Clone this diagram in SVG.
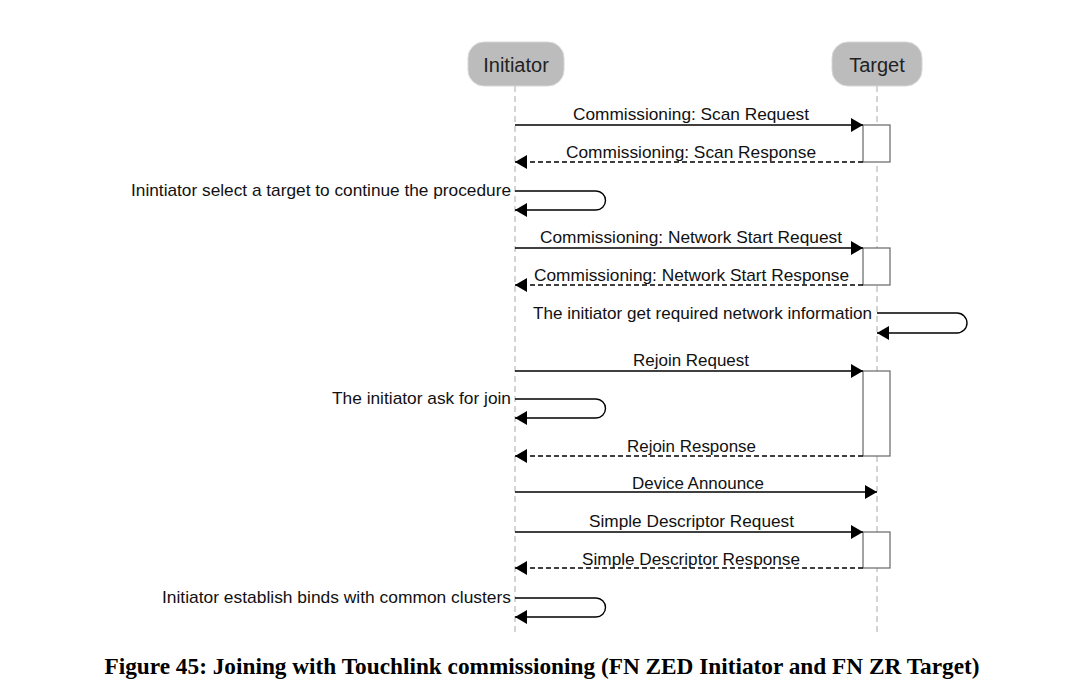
<svg xmlns="http://www.w3.org/2000/svg" width="1084" height="697" viewBox="0 0 1084 697">
<defs>
<style>
.lbl{font-family:"Liberation Sans",Arial,sans-serif;font-size:17px;fill:#111}
.mid{text-anchor:middle}
.end{text-anchor:end}
.head{font-family:"Liberation Sans",Arial,sans-serif;font-size:20px;fill:#222;text-anchor:middle}
.pill{fill:#bcbcbc;stroke:#d6d6d6;stroke-width:1}
.life{stroke:#aaa;stroke-width:1;stroke-dasharray:6,4;fill:none}
.act{fill:#fff;stroke:#666;stroke-width:1.2}
.msg{stroke:#000;stroke-width:1.4;fill:none;marker-end:url(#ah)}
.ret{stroke:#000;stroke-width:1.4;fill:none;stroke-dasharray:5,3;marker-end:url(#ah)}
.cap{font-family:"Liberation Serif","Times New Roman",serif;font-weight:bold;font-size:23px;fill:#000;text-anchor:middle}
</style>
<marker id="ah" markerUnits="userSpaceOnUse" markerWidth="13" markerHeight="14" refX="12" refY="7" orient="auto">
<path d="M0,0 L12,7 L0,14 z" fill="#000" stroke="none"/>
</marker>
</defs>
<rect width="1084" height="697" fill="#fff"/>
<g id="lifelines">
<line class="life" x1="515" y1="86" x2="515" y2="632"/>
<line class="life" x1="877" y1="86" x2="877" y2="632"/>
</g>
<g id="initiator">
<rect class="pill" x="468" y="42" width="96" height="44" rx="16"/>
<text class="head" x="516" y="72">Initiator</text>
</g>
<g id="target">
<rect class="pill" x="832" y="42" width="90" height="44" rx="16"/>
<text class="head" x="877" y="72">Target</text>
</g>
<g id="activations">
<rect class="act" x="863" y="125" width="27" height="37"/>
<rect class="act" x="863" y="248" width="27" height="37"/>
<rect class="act" x="863" y="371" width="27" height="85"/>
<rect class="act" x="863" y="532" width="27" height="36"/>
</g>
<g id="connectors">
<line class="msg" x1="515" y1="125" x2="863" y2="125"/>
<line class="ret" x1="863" y1="162" x2="515" y2="162"/>
<path class="msg" d="M515,191 H596 A9.5,9.5 0 0 1 596,210 H515"/>
<line class="msg" x1="515" y1="248" x2="863" y2="248"/>
<line class="ret" x1="863" y1="285" x2="515" y2="285"/>
<path class="msg" d="M877,313 H957 A10,10 0 0 1 957,333 H877"/>
<line class="msg" x1="515" y1="371" x2="863" y2="371"/>
<path class="msg" d="M515,399 H596 A9.5,9.5 0 0 1 596,418 H515"/>
<line class="ret" x1="863" y1="456" x2="515" y2="456"/>
<line class="msg" x1="515" y1="492" x2="877" y2="492"/>
<line class="msg" x1="515" y1="532" x2="863" y2="532"/>
<line class="ret" x1="863" y1="568" x2="515" y2="568"/>
<path class="msg" d="M515,598 H596 A9.5,9.5 0 0 1 596,617 H515"/>
</g>
<g id="labels">
<text class="lbl" x="573" y="120" textLength="236" lengthAdjust="spacingAndGlyphs">Commissioning: Scan Request</text>
<text class="lbl" x="566" y="158" textLength="250" lengthAdjust="spacingAndGlyphs">Commissioning: Scan Response</text>
<text class="lbl" x="131" y="196" textLength="380" lengthAdjust="spacingAndGlyphs">Inintiator select a target to continue the procedure</text>
<text class="lbl" x="540" y="243" textLength="302" lengthAdjust="spacingAndGlyphs">Commissioning: Network Start Request</text>
<text class="lbl" x="534" y="281" textLength="315" lengthAdjust="spacingAndGlyphs">Commissioning: Network Start Response</text>
<text class="lbl" x="533" y="319" textLength="339" lengthAdjust="spacingAndGlyphs">The initiator get required network information</text>
<text class="lbl" x="633" y="366" textLength="116" lengthAdjust="spacingAndGlyphs">Rejoin Request</text>
<text class="lbl" x="332" y="404" textLength="179" lengthAdjust="spacingAndGlyphs">The initiator ask for join</text>
<text class="lbl" x="627" y="452" textLength="129" lengthAdjust="spacingAndGlyphs">Rejoin Response</text>
<text class="lbl" x="632" y="489" textLength="132" lengthAdjust="spacingAndGlyphs">Device Announce</text>
<text class="lbl" x="589" y="527" textLength="205" lengthAdjust="spacingAndGlyphs">Simple Descriptor Request</text>
<text class="lbl" x="582" y="565" textLength="218" lengthAdjust="spacingAndGlyphs">Simple Descriptor Response</text>
<text class="lbl" x="162" y="603" textLength="349" lengthAdjust="spacingAndGlyphs">Initiator establish binds with common clusters</text>
</g>
<text class="cap" x="542" y="674" textLength="875" lengthAdjust="spacingAndGlyphs">Figure 45: Joining with Touchlink commissioning (FN ZED Initiator and FN ZR Target)</text>
</svg>
